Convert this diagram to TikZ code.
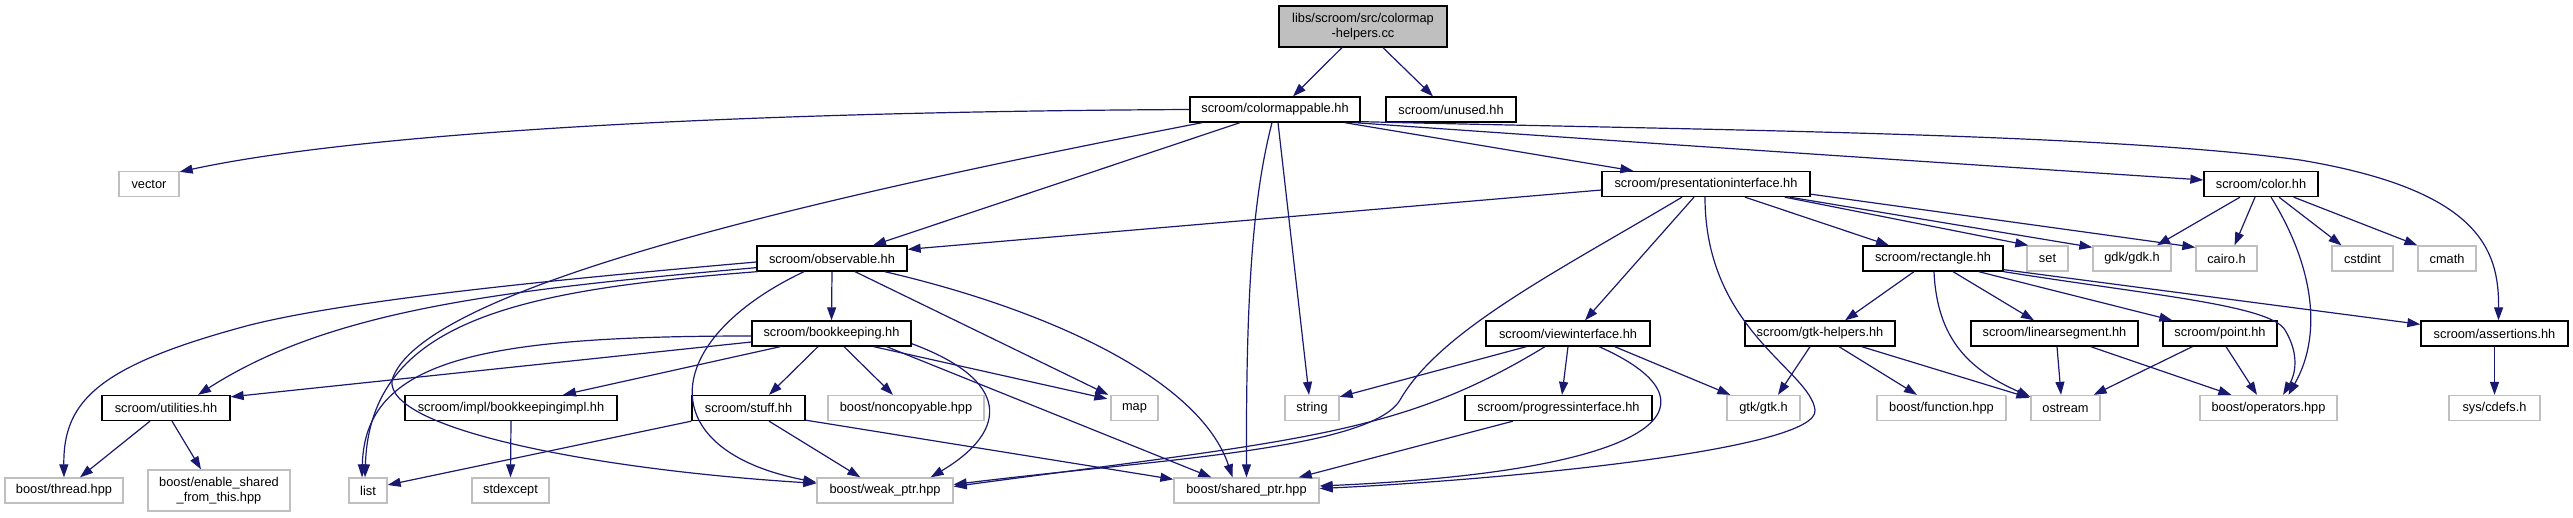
\documentclass[tikz,border=0pt]{standalone}
\usepackage{fontspec}
\setmainfont{Liberation Sans}
\usetikzlibrary{arrows.meta}
\definecolor{edgec}{HTML}{191970}
\definecolor{greyc}{HTML}{BFBFBF}
\newcommand\dgfont{\fontsize{12.8}{15}\selectfont}
\tikzset{
  fbox/.style={draw=black, line width=1.3pt, fill=white, inner sep=0pt, minimum height=25pt, font=\dgfont},
  xbox/.style={draw=greyc, line width=1.3pt, fill=white, inner sep=0pt, minimum height=25pt, font=\dgfont},
  rootbox/.style={draw=black, line width=1.3pt, fill=greyc, inner sep=0pt, minimum height=41pt, align=center, font=\dgfont},
  edge/.style={draw=edgec, line width=1.2pt, -{Triangle[length=13pt,width=9pt]}}
}
\begin{document}
\begin{tikzpicture}[x=1pt,y=-1pt]
\useasboundingbox (0,0) rectangle (2573,517);
% nodes
\node[rootbox, minimum width=168pt] (top) at (1363,26.5) {libs/scroom/src/colormap\\-helpers.cc};
\node[fbox, minimum width=170pt] (cm) at (1275,109.5) {scroom/colormappable.hh};
\node[fbox, minimum width=130pt] (unused) at (1451,109.5) {scroom/unused.hh};
\node[xbox, minimum width=60pt] (vector) at (149,184) {vector};
\node[fbox, minimum width=208pt] (pi) at (1706,184) {scroom/presentationinterface.hh};
\node[fbox, minimum width=114pt] (color) at (2261,184) {scroom/color.hh};
\node[fbox, minimum width=150pt] (obs) at (832,258.5) {scroom/observable.hh};
\node[fbox, minimum width=140pt] (rect) at (1933,258.5) {scroom/rectangle.hh};
\node[xbox, minimum width=41pt] (set) at (2047.5,258.5) {set};
\node[xbox, minimum width=78pt] (gdk) at (2132,258.5) {gdk/gdk.h};
\node[xbox, minimum width=61pt] (cairo) at (2226.5,258.5) {cairo.h};
\node[xbox, minimum width=61pt] (cstdint) at (2362.5,258.5) {cstdint};
\node[xbox, minimum width=58pt] (cmath) at (2447,258.5) {cmath};
\node[fbox, minimum width=159pt] (bk) at (831.5,333.5) {scroom/bookkeeping.hh};
\node[fbox, minimum width=164pt] (vi) at (1568,333.5) {scroom/viewinterface.hh};
\node[fbox, minimum width=150pt] (gh) at (1820,333.5) {scroom/gtk-helpers.hh};
\node[fbox, minimum width=167pt] (ls) at (2054.5,333.5) {scroom/linearsegment.hh};
\node[fbox, minimum width=114pt] (pt) at (2220,333.5) {scroom/point.hh};
\node[fbox, minimum width=147pt] (as) at (2494.5,333.5) {scroom/assertions.hh};
\node[fbox, minimum width=128pt] (ut) at (166,408) {scroom/utilities.hh};
\node[fbox, minimum width=212pt] (bki) at (511,408) {scroom/impl/bookkeepingimpl.hh};
\node[fbox, minimum width=113pt] (stuff) at (748.5,408) {scroom/stuff.hh};
\node[xbox, minimum width=156pt] (nc) at (906,408) {boost/noncopyable.hpp};
\node[xbox, minimum width=47pt] (map) at (1134.5,408) {map};
\node[xbox, minimum width=54pt] (string) at (1312,408) {string};
\node[fbox, minimum width=187pt] (prog) at (1558.5,408) {scroom/progressinterface.hh};
\node[xbox, minimum width=73pt] (gtk) at (1763.5,408) {gtk/gtk.h};
\node[xbox, minimum width=129pt] (func) at (1941.5,408) {boost/function.hpp};
\node[xbox, minimum width=69pt] (ostream) at (2065.5,408) {ostream};
\node[xbox, minimum width=137pt] (ops) at (2268.5,408) {boost/operators.hpp};
\node[xbox, minimum width=91pt] (cdefs) at (2494.5,408) {sys/cdefs.h};
\node[xbox, minimum width=118pt] (thread) at (64,490.5) {boost/thread.hpp};
\node[xbox, minimum width=142pt, minimum height=41pt, align=center] (esft) at (219,490.5) {boost/enable\_shared\\\_from\_this.hpp};
\node[xbox, minimum width=38pt] (list) at (368,490.5) {list};
\node[xbox, minimum width=77pt] (stdexcept) at (510.5,490.5) {stdexcept};
\node[xbox, minimum width=136pt] (weak) at (885,490.5) {boost/weak\_ptr.hpp};
\node[xbox, minimum width=145pt] (shared) at (1246.5,490.5) {boost/shared\_ptr.hpp};
% edges
\draw[edge] ([xshift=-21pt]top.south) -- ([xshift=18pt]cm.north);
\draw[edge] ([xshift=20pt]top.south) -- ([xshift=-18pt]unused.north);
\draw[edge] (cm.west) .. controls (700,112) and (350,135) .. ([yshift=-1pt]vector.north east);
\draw[edge] ([xshift=13pt]cm.south west) .. controls (800,200) and (420,290) .. (392,380) .. controls (385,430) and (600,470) .. ([yshift=-6pt]weak.north west);
\draw[edge] ([xshift=-35pt]cm.south) -- ([xshift=41pt]obs.north);
\draw[edge] ([xshift=-3pt]cm.south) .. controls (1252,200) and (1246,300) .. (shared.north);
\draw[edge] ([xshift=3pt]cm.south) -- ([xshift=-3pt]string.north);
\draw[edge] ([xshift=-16pt]cm.south east) -- ([xshift=32pt]pi.north west);
\draw[edge] ([xshift=-6pt]cm.south east) .. controls (1600,140) and (1900,160) .. ([yshift=4pt]color.west);
\draw[edge] ([yshift=1pt]cm.south east) .. controls (1700,130) and (2100,133) .. (2300,160) .. controls (2480,190) and (2499,250) .. ([xshift=4pt]as.north);
\draw[edge] ([yshift=-6pt]pi.west) -- ([yshift=-4pt]obs.north east);
\draw[edge] ([xshift=-24pt]pi.south) .. controls (1560,270) and (1440,330) .. (1400,400) .. controls (1370,450) and (1150,460) .. ([yshift=6pt]weak.east);
\draw[edge] ([xshift=-12pt]pi.south) -- ([xshift=17pt]vi.north);
\draw[edge] ([xshift=-1pt]pi.south) .. controls (1705,330) and (1810,370) .. (1815,410) .. controls (1820,450) and (1500,480) .. ([yshift=2pt]shared.east);
\draw[edge] ([xshift=39pt]pi.south) -- ([xshift=-44pt]rect.north);
\draw[edge] ([xshift=-26pt]pi.south east) -- ([xshift=2pt]set.north west);
\draw[edge] ([xshift=-21pt]pi.south east) -- ([yshift=-2pt]gdk.north west);
\draw[edge] ([yshift=3pt]pi.south east) -- ([yshift=-2pt]cairo.north west);
\draw[edge] ([xshift=-21pt]color.south) -- ([xshift=25pt]gdk.north);
\draw[edge] ([xshift=-6pt]color.south) -- ([xshift=8pt]cairo.north);
\draw[edge] ([xshift=10pt]color.south) .. controls (2310,260) and (2325,330) .. ([xshift=20pt]ops.north);
\draw[edge] ([xshift=18pt]color.south) -- ([xshift=-21pt]cstdint.north);
\draw[edge] ([xshift=-25pt]color.south east) -- (cmath.north west);
\draw[edge] ([yshift=-3.5pt]obs.west) .. controls (550,280) and (350,300) .. (250,325) .. controls (100,365) and (63,400) .. (thread.north);
\draw[edge] ([yshift=4pt]obs.south west) .. controls (500,290) and (330,310) .. ([xshift=32pt]ut.north);
\draw[edge] ([xshift=1pt]obs.south west) .. controls (520,290) and (370,320) .. ([xshift=-3pt]list.north);
\draw[edge] ([xshift=-28pt]obs.south) .. controls (660,340) and (650,450) .. ([yshift=-5pt]weak.north west);
\draw[edge] (obs.south) -- (bk.north);
\draw[edge] ([xshift=23pt]obs.south) -- ([xshift=-2pt]map.north west);
\draw[edge] ([xshift=-23pt]obs.south east) .. controls (1050,310) and (1200,380) .. ([xshift=-14pt]shared.north);
\draw[edge] ([yshift=-8.5pt]bk.west) -- ([yshift=-2pt]ut.north east);
\draw[edge] ([yshift=-2.5pt]bk.west) .. controls (480,336) and (365,360) .. ([xshift=-6pt]list.north);
\draw[edge] ([xshift=29pt]bk.south west) -- ([xshift=52pt]bki.north);
\draw[edge] ([xshift=-13.5pt]bk.south) -- ([xshift=20.5pt]stuff.north);
\draw[edge] ([xshift=12.5pt]bk.south) -- ([xshift=-13pt]nc.north);
\draw[edge] ([xshift=-38pt]bk.south east) -- ([xshift=-3pt,yshift=-4pt]map.north west);
\draw[edge] ([yshift=3pt]bk.south east) .. controls (1010,380) and (1010,430) .. ([xshift=-23pt]weak.north east);
\draw[edge] ([xshift=-25pt]bk.south east) -- ([xshift=38pt]shared.north west);
\draw[edge] (stuff.south west) -- ([yshift=5.5pt]list.east);
\draw[edge] ([xshift=20.5pt]stuff.south) -- ([xshift=44pt]weak.north west);
\draw[edge] ([yshift=1pt]stuff.south east) -- ([yshift=-2pt]shared.north west);
\draw[edge] ([xshift=-16pt]ut.south) -- ([xshift=16pt]thread.north);
\draw[edge] ([xshift=6pt]ut.south) -- ([xshift=-18pt]esft.north);
\draw[edge] (bki.south) -- (stdexcept.north);
\draw[edge] ([xshift=41pt]vi.south west) -- ([yshift=-2pt]string.north east);
\draw[edge] ([xshift=-23pt]vi.south) .. controls (1400,435) and (1300,440) .. ([yshift=4pt]weak.east);
\draw[edge] (vi.south) -- ([xshift=3.5pt]prog.north);
\draw[edge] ([xshift=31pt]vi.south) .. controls (1720,400) and (1680,470) .. ([yshift=4.5pt]shared.east);
\draw[edge] ([xshift=-36pt]vi.south east) -- ([xshift=4pt]gtk.north west);
\draw[edge] ([xshift=-45.5pt]prog.south) -- ([xshift=-21pt]shared.north east);
\draw[edge] ([xshift=-19pt]rect.south) -- ([xshift=25pt]gh.north);
\draw[edge] ([xshift=1pt]rect.south) .. controls (1937,340) and (1970,370) .. ([yshift=-2pt]ostream.north west);
\draw[edge] ([xshift=20pt]rect.south) -- ([xshift=-20.5pt]ls.north);
\draw[edge] ([xshift=-25pt]rect.south east) -- ([xshift=10pt]pt.north west);
\draw[edge] (rect.south east) .. controls (2150,295) and (2270,305) .. (2285,330) .. controls (2300,355) and (2295,375) .. ([xshift=14.5pt]ops.north);
\draw[edge] ([yshift=2pt]rect.south east) -- ([yshift=-4pt]as.north west);
\draw[edge] ([xshift=-10pt]gh.south) -- ([xshift=14.5pt]gtk.north);
\draw[edge] ([xshift=19pt]gh.south) -- ([xshift=-24.5pt]func.north);
\draw[edge] ([xshift=-34pt]gh.south east) -- ([xshift=-1pt,yshift=-3pt]ostream.north west);
\draw[edge] ([xshift=2.5pt]ls.south) -- ([xshift=-4.5pt]ostream.north);
\draw[edge] ([xshift=-48pt]ls.south east) -- ([xshift=32pt]ops.north west);
\draw[edge] ([xshift=30pt]pt.south west) -- ([xshift=-7pt]ostream.north east);
\draw[edge] ([xshift=6pt]pt.south) -- ([xshift=-11.5pt]ops.north);
\draw[edge] (as.south) -- (cdefs.north);
\end{tikzpicture}
\end{document}
